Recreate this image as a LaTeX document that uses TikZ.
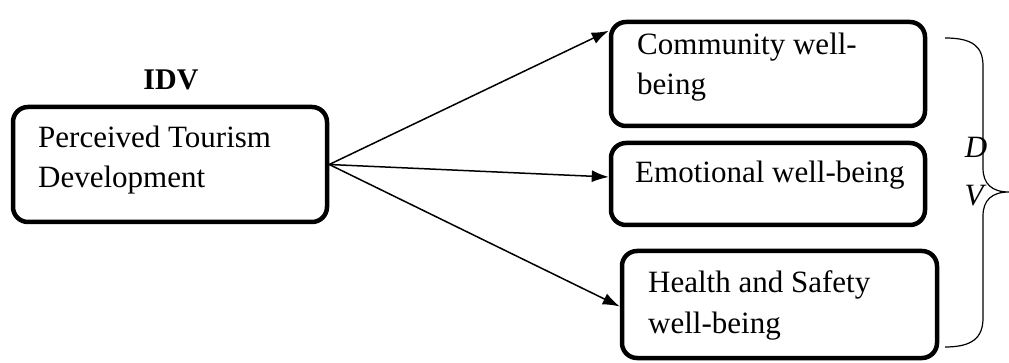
\documentclass[tikz,border=0pt]{standalone}
\usepackage{fontspec}
\setmainfont{Liberation Serif}
\usetikzlibrary{arrows.meta,calc}
\tikzset{
  boxnode/.style={draw, line width=4.5pt, rounded corners=15pt, rectangle, inner sep=0pt},
  lbl/.style={anchor=base west, inner sep=0pt, font=\fontsize{31}{36}\selectfont},
  conn/.style={line width=1.5pt, -{Latex[length=17pt,width=12pt]}},
  bracestyle/.style={line width=1.2pt}
}
\begin{document}
\begin{tikzpicture}[x=1pt,y=-1pt]
\useasboundingbox (0,0) rectangle (1009,363);
% boxes
\node[boxnode, minimum width=314pt, minimum height=115pt] (L) at (170,164.5) {};
\node[boxnode, minimum width=314pt, minimum height=104pt] (C) at (768,74) {};
\node[boxnode, minimum width=314pt, minimum height=82pt] (E) at (768,184) {};
\node[boxnode, minimum width=315pt, minimum height=107pt] (H) at (779.5,304.5) {};
% texts
\node[anchor=base, inner sep=0pt, font=\fontsize{30}{34}\selectfont\bfseries] (idv) at (171,90) {IDV};
\node[lbl] (l1) at (38,148) {Perceived Tourism};
\node[lbl] (l2) at (38,188) {Development};
\node[lbl] (c1) at (637,55) {Community well-};
\node[lbl] (c2) at (637,95) {being};
\node[lbl] (e1) at (635,183) {Emotional well-being};
\node[lbl] (h1) at (648,293) {Health and Safety};
\node[lbl] (h2) at (648,333) {well-being};
\node[anchor=base, inner sep=0pt, font=\fontsize{31}{36}\selectfont\itshape] (dd) at (976,158) {D};
\node[anchor=base, inner sep=0pt, font=\fontsize{31}{36}\selectfont\itshape] (vv) at (974,206) {V};
% connectors
\coordinate (s) at (L.east);
\coordinate (tc) at ($(C.north west)+(0,11)$);
\coordinate (te) at ($(E.west)+(0,-7)$);
\coordinate (th) at ($(H.west)+(0,2)$);
\draw[conn] (s) -- (tc);
\draw[conn] (s) -- (te);
\draw[conn] (s) -- (th);
% brace
\coordinate (bt) at (945,38);
\coordinate (bm) at (1009,192);
\coordinate (bb) at (945,347);
\draw[bracestyle] (bt) .. controls (972,38) and (983,46) .. (983,66)
  -- (983,168) .. controls (983,184) and (992,192) .. (bm)
  .. controls (992,192) and (983,200) .. (983,216)
  -- (983,318) .. controls (983,338) and (972,347) .. (bb);
\end{tikzpicture}
\end{document}
